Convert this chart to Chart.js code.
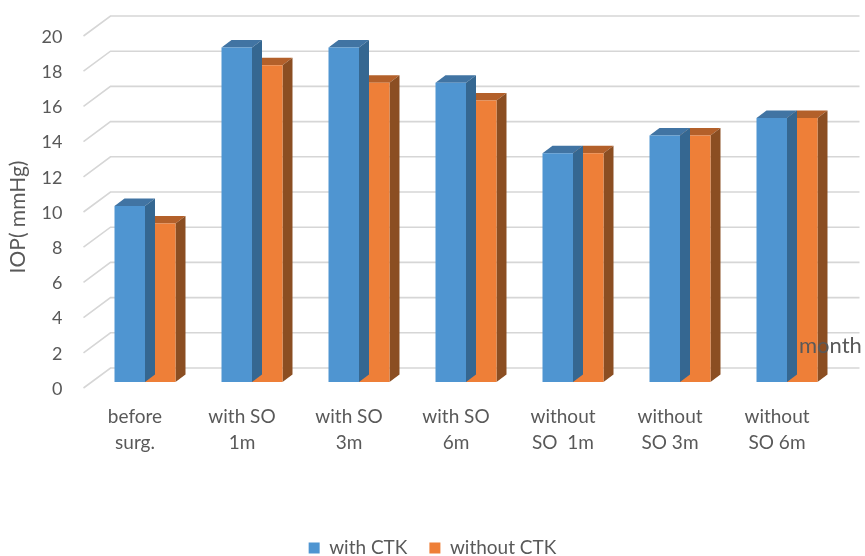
<!DOCTYPE html>
<html>
<head>
<meta charset="utf-8">
<script src="https://cdn.jsdelivr.net/npm/chart.js@4.4.1/dist/chart.umd.min.js"></script>
<style>
  html, body { margin: 0; padding: 0; background: #ffffff; }
  #wrap { width: 865px; height: 556px; }
</style>
</head>
<body>
<div id="wrap"><canvas id="c" width="865" height="556"></canvas></div>
<script>
// Time points (two-line labels)
const categories = [
  ['before', 'surg.'],
  ['with SO', '1m'],
  ['with SO', '3m'],
  ['with SO', '6m'],
  ['without', 'SO  1m'],
  ['without', 'SO 3m'],
  ['without', 'SO 6m']
];
const seriesNames = ['with CTK', 'without CTK'];
// IOP in mmHg
const withCTK = [10, 19, 19, 17, 13, 14, 15];
const withoutCTK = [9, 18, 17, 16, 13, 14, 15];
const yTickValues = [0, 2, 4, 6, 8, 10, 12, 14, 16, 18, 20];
const yTitle = 'IOP( mmHg)';
const xTitle = 'month';

const FONT = 'Lato, "Open Sans", sans-serif';
const TEXT = '#595959';
const FRONT = ['#4F95D1', '#EE7F38'];
const TOP = ['#4174A3', '#B3602A'];
const SIDE = ['#356791', '#8B4E22'];
const GRID = '#D6D6D6';

// bar depth and wall offsets (px)
const DX = 10, DY = -7.5;
const WALL_DX = 19, WALL_DY = -14;
const EDGE_DX = -8, EDGE_DY = 6;

const depthPlugin = {
  id: 'depth',
  beforeDatasetsDraw(chart) {
    const { ctx, chartArea, scales } = chart;
    const y = scales.y;
    ctx.save();
    ctx.strokeStyle = GRID;
    ctx.lineWidth = 1.6;
    y.ticks.forEach(t => {
      const py = y.getPixelForValue(t.value);
      ctx.beginPath();
      ctx.moveTo(chartArea.left + EDGE_DX, py + EDGE_DY);
      ctx.lineTo(chartArea.left + WALL_DX, py + WALL_DY);
      ctx.lineTo(chartArea.right + WALL_DX, py + WALL_DY);
      ctx.stroke();
    });
    ctx.restore();
  },
  beforeDatasetDraw(chart, args) {
    const ctx = chart.ctx;
    const i = args.index;
    ctx.save();
    args.meta.data.forEach(bar => {
      const { x, y, base, width } = bar.getProps(['x', 'y', 'base', 'width'], true);
      const l = x - width / 2, r = x + width / 2;
      ctx.fillStyle = TOP[i];
      ctx.beginPath();
      ctx.moveTo(l, y);
      ctx.lineTo(r, y);
      ctx.lineTo(r + DX, y + DY);
      ctx.lineTo(l + DX, y + DY);
      ctx.closePath();
      ctx.fill();
      ctx.fillStyle = SIDE[i];
      ctx.beginPath();
      ctx.moveTo(r, y);
      ctx.lineTo(r + DX, y + DY);
      ctx.lineTo(r + DX, base + DY);
      ctx.lineTo(r, base);
      ctx.closePath();
      ctx.fill();
    });
    ctx.restore();
  },
  afterDraw(chart) {
    const ctx = chart.ctx;
    ctx.save();
    ctx.fillStyle = TEXT;
    ctx.font = '21px ' + FONT;
    ctx.textAlign = 'center';
    ctx.textBaseline = 'middle';
    ctx.translate(18, 217);
    ctx.rotate(-Math.PI / 2);
    ctx.fillText(yTitle, 0, 0);
    ctx.restore();

    ctx.save();
    ctx.fillStyle = TEXT;
    ctx.font = '22px ' + FONT;
    ctx.textAlign = 'left';
    ctx.textBaseline = 'middle';
    ctx.fillText(xTitle, 799, 346);
    ctx.restore();
  }
};

new Chart(document.getElementById('c'), {
  type: 'bar',
  data: {
    labels: categories,
    datasets: [
      { label: seriesNames[0], data: withCTK, backgroundColor: FRONT[0], borderWidth: 0 },
      { label: seriesNames[1], data: withoutCTK, backgroundColor: FRONT[1], borderWidth: 0 }
    ]
  },
  options: {
    responsive: false,
    animation: false,
    devicePixelRatio: 1,
    categoryPercentage: 0.57,
    barPercentage: 1.0,
    layout: { padding: { top: 30, right: 0, left: 0, bottom: -11.5 } },
    plugins: {
      legend: {
        position: 'bottom',
        labels: {
          boxWidth: 11, boxHeight: 11, padding: 22,
          color: TEXT, font: { size: 19, family: FONT }
        }
      },
      tooltip: { enabled: false }
    },
    scales: {
      x: {
        grid: { display: false, drawTicks: false },
        border: { display: false },
        ticks: {
          color: TEXT, font: { size: 19, family: FONT, lineHeight: 1.37 },
          padding: 22, labelOffset: -10, maxRotation: 0, autoSkip: false
        },
        afterFit(s) { s.height = 134.5; }
      },
      y: {
        min: 0, max: 20,
        grid: { display: false, drawTicks: true, tickLength: 24 },
        border: { display: false },
        ticks: { color: TEXT, font: { size: 18, family: FONT }, padding: 5, labelOffset: 7 },
        afterBuildTicks(s) { s.ticks = yTickValues.map(v => ({ value: v })); },
        afterFit(s) { s.width = 91.5; }
      },
      // empty right-hand strip that holds the depth of the back wall
      yRight: {
        position: 'right',
        grid: { display: false, drawTicks: false },
        border: { display: false },
        ticks: { display: false },
        afterFit(s) { s.width = 24.5; }
      }
    }
  },
  plugins: [depthPlugin]
});
</script>
</body>
</html>
